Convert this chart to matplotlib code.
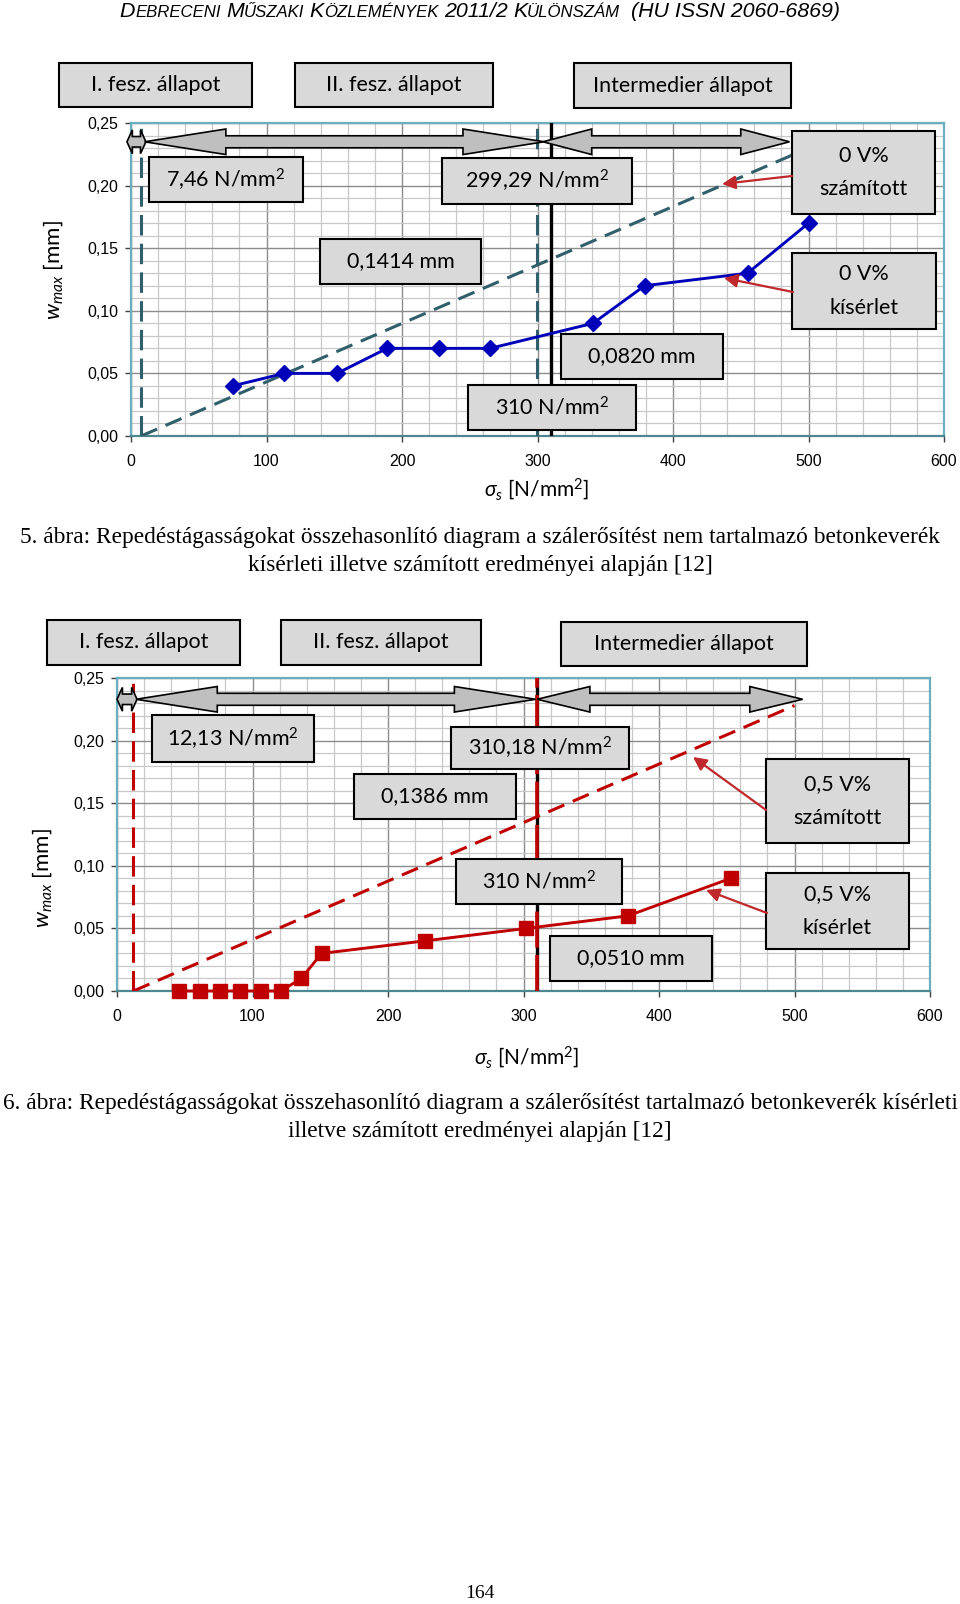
"""
Repedéstágasság diagramok (5. és 6. ábra) újrarajzolása
"""

import numpy as np
import matplotlib
matplotlib.use("Agg")
import matplotlib.pyplot as plt
from matplotlib.patches import Rectangle, Polygon, FancyArrowPatch
from matplotlib.ticker import FuncFormatter

# ======================================================
# 1. Adatok
# ======================================================
# 5. ábra - 0 V% (szálerősítés nélkül)
sigma_kis_0 = [75, 113, 152, 189, 227, 265, 341, 379, 455, 500]
w_kis_0 = [0.04, 0.05, 0.05, 0.07, 0.07, 0.07, 0.09, 0.12, 0.13, 0.17]
sigma_szam_0 = [7.46, 500]
w_szam_0 = [0.0, 0.230]
sigma_hatar_0 = [7.46, 299.29, 310]

# 6. ábra - 0,5 V% (szálerősítéssel)
sigma_kis_5 = [46, 61, 76, 91, 106, 121, 136, 151, 227, 302, 377, 453]
w_kis_5 = [0, 0, 0, 0, 0, 0, 0.01, 0.03, 0.04, 0.05, 0.06, 0.09]
sigma_szam_5 = [12.13, 500]
w_szam_5 = [0.0, 0.228]
sigma_hatar_5 = [12.13, 310.18, 310]

x_ticks = [0, 100, 200, 300, 400, 500, 600]
y_ticks = [0.0, 0.05, 0.10, 0.15, 0.20, 0.25]

# ======================================================
# 2. Stílus
# ======================================================
W, H = 960, 1604
plt.rcParams['mathtext.fontset'] = 'custom'
plt.rcParams['mathtext.rm'] = 'Lato'
plt.rcParams['mathtext.it'] = 'Lato:italic'
plt.rcParams['mathtext.bf'] = 'Lato:bold'

BOX_FONT = 'Lato'
BOX_SIZE = 15.5
CAP_SIZE = 16.8
TEAL = '#305F6B'
BLUE = '#0000BB'
RED = '#C00000'
ARROW_RED = '#C0282C'

fig = plt.figure(figsize=(W / 100, H / 100), dpi=100)


def fx(x):
    return x / W


def fy(y):
    return 1 - y / H


def make_axes(left, top, right, bottom):
    ax = fig.add_axes([fx(left), fy(bottom), (right - left) / W, (bottom - top) / H])
    ax.set_xlim(0, 600)
    ax.set_ylim(0, 0.25)
    ax.set_xticks(x_ticks)
    ax.set_xticks(np.arange(0, 601, 20), minor=True)
    ax.set_yticks(y_ticks)
    ax.set_yticks(np.arange(0, 0.2501, 0.01), minor=True)
    ax.yaxis.set_major_formatter(FuncFormatter(lambda v, p: f"{v:.2f}".replace(".", ",")))
    ax.grid(which='major', color='#8C8C8C', lw=1.0)
    ax.grid(which='minor', color='#C8C8C8', lw=0.9)
    ax.set_axisbelow(True)
    ax.tick_params(which='minor', length=0)
    ax.tick_params(which='major', direction='out', length=4, width=1,
                   color='#404040', labelsize=11.5)
    ax.tick_params(axis='x', pad=9)
    ax.tick_params(axis='y', pad=5)
    for lab in ax.get_xticklabels() + ax.get_yticklabels():
        lab.set_family('Liberation Sans')
    for s in ['left', 'top', 'right']:
        ax.spines[s].set_color('#6AAFBF')
        ax.spines[s].set_linewidth(1.6)
    ax.spines['bottom'].set_color('#4D8790')
    ax.spines['bottom'].set_linewidth(1.6)
    return ax


def double_arrow(ax, x0, x1, y, head_len, head_h=0.0102, shaft_h=0.0048):
    pts = [(x0, y), (x0 + head_len, y + head_h), (x0 + head_len, y + shaft_h),
           (x1 - head_len, y + shaft_h), (x1 - head_len, y + head_h), (x1, y),
           (x1 - head_len, y - head_h), (x1 - head_len, y - shaft_h),
           (x0 + head_len, y - shaft_h), (x0 + head_len, y - head_h)]
    ax.add_patch(Polygon(pts, closed=True, facecolor='#BFBFBF', edgecolor='black',
                         lw=1.2, zorder=6, clip_on=False))


def box(x0, y0, x1, y1, text):
    fig.patches.append(Rectangle((fx(x0), fy(y1)), (x1 - x0) / W, (y1 - y0) / H,
                                 transform=fig.transFigure, facecolor='#D9D9D9',
                                 edgecolor='black', lw=1.5, zorder=5))
    fig.text(fx((x0 + x1) / 2), fy((y0 + y1) / 2), text, ha='center', va='center',
             family=BOX_FONT, fontsize=BOX_SIZE, linespacing=1.85, zorder=6)


def red_arrow(xa, ya, xb, yb):
    fig.patches.append(FancyArrowPatch((fx(xa), fy(ya)), (fx(xb), fy(yb)),
                                       transform=fig.transFigure, arrowstyle='-|>',
                                       mutation_scale=20, color=ARROW_RED, lw=1.6,
                                       shrinkA=0, shrinkB=0, zorder=7))


# ======================================================
# 3. Fejléc
# ======================================================
header = [("D", 'b'), ("EBRECENI", 's'), (" ", 'g'), ("M", 'b'), ("ŰSZAKI", 's'),
          (" ", 'g'), ("K", 'b'), ("ÖZLEMÉNYEK", 's'), (" ", 'g'), ("2011/2", 'b'),
          (" ", 'g'), ("K", 'b'), ("ÜLÖNSZÁM", 's'), (" ", 'g'), (" ", 'g'),
          ("(HU ISSN 2060-6869)", 'b')]
renderer = fig.canvas.get_renderer()
pieces = []
pos = 0.0
for s, kind in header:
    if kind == 'g':
        pos += 5.5
        continue
    t = fig.text(0, fy(17), s, fontsize=15.4 if kind == 'b' else 12.1, style='italic',
                 family=['Liberation Sans Narrow', 'Liberation Sans'], va='baseline')
    pieces.append((t, pos))
    pos += t.get_window_extent(renderer).width
start = (W - pos) / 2
for t, off in pieces:
    t.set_x(fx(start + off))

# ======================================================
# 4. 5. ábra
# ======================================================
ax1 = make_axes(131, 123, 944, 436)
ax1.axvline(sigma_hatar_0[0], color=TEAL, lw=2.2, ls=(0, (6.7, 2.7)), zorder=3)
ax1.axvline(sigma_hatar_0[1], color=TEAL, lw=2.2, ls=(0, (6.7, 2.7)), zorder=3)
ax1.axvline(sigma_hatar_0[2], color='black', lw=2.4, zorder=3)
ax1.plot(sigma_szam_0, w_szam_0, color=TEAL, lw=2.2, ls=(0, (5.7, 3)), zorder=4)
ax1.plot(sigma_kis_0, w_kis_0, color=BLUE, lw=2.1, marker='D', ms=8.5, zorder=5,
         clip_on=False)
double_arrow(ax1, -3, 11, 0.235, 4, head_h=0.0095, shaft_h=0.0042)
double_arrow(ax1, 10, 305, 0.235, 60)
double_arrow(ax1, 304, 486, 0.235, 36)

fig.text(fx(53), fy(270), r"$w_{max}$ [mm]", rotation=90, ha='center', va='center',
         family=BOX_FONT, fontsize=16)
fig.text(fx(537), fy(489), r"$\sigma_s$ [N/mm$^2$]", ha='center', va='center',
         family=BOX_FONT, fontsize=15)

box(59, 63, 252, 107, "I. fesz. állapot")
box(295, 63, 493, 107, "II. fesz. állapot")
box(574, 63, 791, 108, "Intermedier állapot")
box(149, 157, 303, 202, "7,46 N/mm$^2$")
box(442, 158, 632, 204, "299,29 N/mm$^2$")
box(320, 239, 481, 284, "0,1414 mm")
box(792, 131, 935, 214, "0 V%\nszámított")
box(792, 253, 936, 329, "0 V%\nkísérlet")
box(561, 334, 723, 379, "0,0820 mm")
box(468, 385, 636, 430, "310 N/mm$^2$")
red_arrow(792, 176, 722, 184)
red_arrow(793, 292, 724, 278)

fig.text(0.5, fy(537), "5. ábra: Repedéstágasságokat összehasonlító diagram a szálerősítést "
         "nem tartalmazó betonkeverék", ha='center', va='center',
         family='Liberation Serif', fontsize=CAP_SIZE)
fig.text(0.5, fy(565), "kísérleti illetve számított eredményei alapján [12]", ha='center',
         va='center', family='Liberation Serif', fontsize=CAP_SIZE)

# ======================================================
# 5. 6. ábra
# ======================================================
ax2 = make_axes(117, 678, 930, 991)
ax2.axvline(sigma_hatar_5[0], color=RED, lw=2.2, ls=(0, (6.7, 2.7)), zorder=3)
ax2.axvline(sigma_hatar_5[1], color='black', lw=2.4, zorder=3)
ax2.axvline(sigma_hatar_5[2], color=RED, lw=2.6, ls=(0, (10, 2)), zorder=3)
ax2.plot(sigma_szam_5, w_szam_5, color=RED, lw=2.2, ls=(0, (5.7, 3)), zorder=4)
ax2.plot(sigma_kis_5, w_kis_5, color=RED, lw=2.1, marker='s', ms=10, zorder=5,
         clip_on=False)
double_arrow(ax2, 0, 14.8, 0.233, 4, head_h=0.0095, shaft_h=0.0042)
double_arrow(ax2, 14, 309, 0.233, 60)
double_arrow(ax2, 310, 506, 0.233, 39)

fig.text(fx(42), fy(878), r"$w_{max}$ [mm]", rotation=90, ha='center', va='center',
         family=BOX_FONT, fontsize=16)
fig.text(fx(527), fy(1057), r"$\sigma_s$ [N/mm$^2$]", ha='center', va='center',
         family=BOX_FONT, fontsize=15)

box(47, 620, 240, 665, "I. fesz. állapot")
box(281, 620, 481, 665, "II. fesz. állapot")
box(561, 622, 807, 666, "Intermedier állapot")
box(152, 715, 314, 762, "12,13 N/mm$^2$")
box(451, 727, 629, 769, "310,18 N/mm$^2$")
box(354, 774, 516, 819, "0,1386 mm")
box(456, 859, 622, 904, "310 N/mm$^2$")
box(550, 936, 712, 981, "0,0510 mm")
box(766, 759, 909, 843, "0,5 V%\nszámított")
box(766, 873, 909, 949, "0,5 V%\nkísérlet")
red_arrow(766, 810, 693, 757)
red_arrow(767, 913, 706, 890)

fig.text(0.5, fy(1104), "6. ábra: Repedéstágasságokat összehasonlító diagram a szálerősítést "
         "tartalmazó betonkeverék kísérleti", ha='center', va='center',
         family='Liberation Serif', fontsize=CAP_SIZE)
fig.text(0.5, fy(1132), "illetve számított eredményei alapján [12]", ha='center',
         va='center', family='Liberation Serif', fontsize=CAP_SIZE)

fig.text(0.5, fy(1594), "164", ha='center', va='center', family='Liberation Serif',
         fontsize=14)

fig.savefig("out.png", dpi=100)
